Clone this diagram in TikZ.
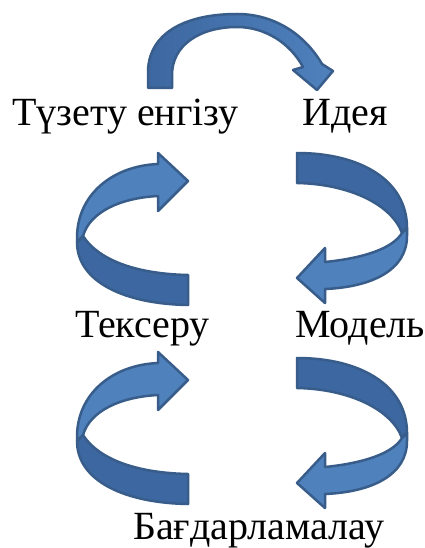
\documentclass[tikz,border=0pt]{standalone}
\usepackage{fontspec}
\setmainfont{Liberation Serif}
\definecolor{facelight}{RGB}{79,129,189}
\definecolor{facedark}{RGB}{61,103,160}
\definecolor{edgeblue}{RGB}{56,93,138}
\tikzset{
  lightface/.style={fill=facelight, draw=edgeblue, line width=2.5pt, line join=round},
  darkface/.style={fill=facedark, draw=edgeblue, line width=2.5pt, line join=round},
  arcface/.style={left color=facedark, right color=facelight, draw=edgeblue, line width=2.5pt, line join=round},
  lbl/.style={anchor=base west, inner sep=0pt, font=\fontsize{40}{48}\selectfont}
}
\newcommand{\leftcarrow}{%
  \filldraw[darkface] (83,236) .. controls (100,262) and (140,274) .. (188,275) -- (188,305)
     .. controls (125,304) and (77,282) .. (77,242) -- cycle;
  \filldraw[lightface] (77,242) -- (77,238) .. controls (77,195) and (112,166) .. (158,164)
     -- (158,153) -- (188,181) -- (158,211) -- (158,196)
     .. controls (120,198) and (90,212) .. (83,236) -- cycle;
}
\newcommand{\rightcarrow}{%
  \filldraw[darkface] (297,153) .. controls (360,153) and (407,180) .. (407,228) -- (402,233)
     .. controls (392,205) and (350,184) .. (297,183) -- cycle;
  \filldraw[lightface] (407,228) -- (407,236) .. controls (407,270) and (372,287) .. (325,289)
     -- (325,303) -- (297,278) -- (325,248) -- (325,262)
     .. controls (365,258) and (393,248) .. (402,233) -- cycle;
}
\begin{document}
\begin{tikzpicture}[x=1pt,y=-1pt]
\useasboundingbox[fill=white] (0,0) rectangle (425,548);
% top arc arrow
\filldraw[arcface] (148,88) -- (148,70) .. controls (150,30) and (190,14) .. (237,14)
   .. controls (275,14) and (305,35) .. (322,64) -- (333,71) -- (317,90) -- (293,70) -- (303,67)
   .. controls (290,43) and (265,27) .. (237,27) .. controls (200,27) and (172,45) .. (172,75)
   -- (172,88) -- cycle;
% row 2
\leftcarrow
\rightcarrow
% row 3
\begin{scope}[shift={(0,199)}]
\leftcarrow
\end{scope}
\begin{scope}[shift={(0,205)}]
\rightcarrow
\end{scope}
% labels
\node[lbl] (tuzetu) at (12,126) {Түзету енгізу};
\node[lbl] (ideya) at (302,126) {Идея};
\node[lbl] (tekseru) at (75,337) {Тексеру};
\node[lbl] (model) at (295,337) {Модель};
\node[lbl] (bagdar) at (133,539) {Бағдарламалау};
\end{tikzpicture}
\end{document}
